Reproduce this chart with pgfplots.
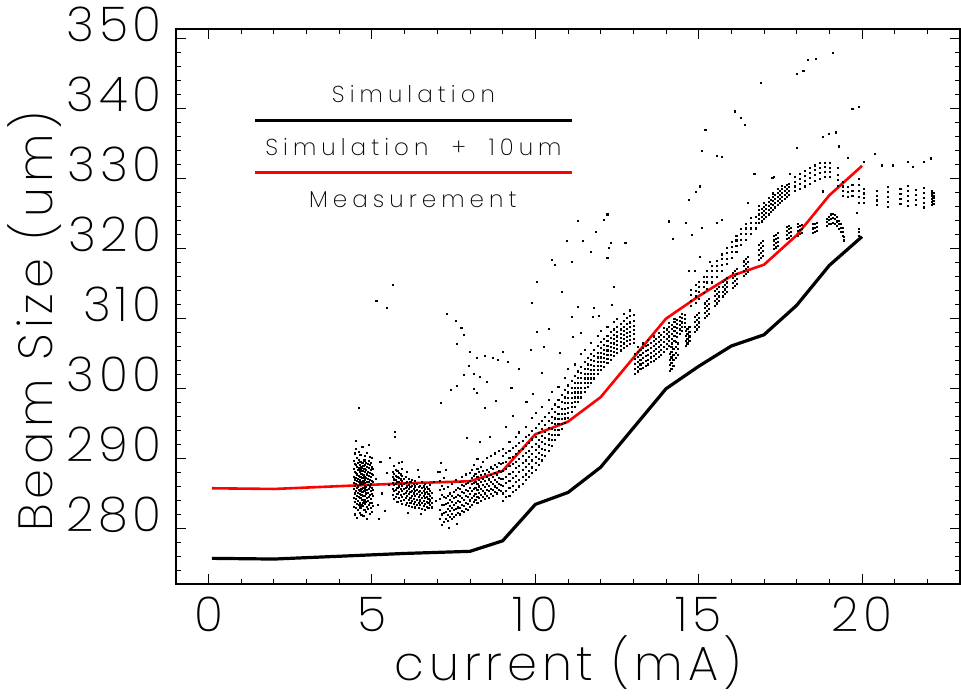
\documentclass[border=0pt]{standalone}
\usepackage{fontspec}
\IfFontExistsTF{Poppins ExtraLight}
  {\setmainfont{Poppins ExtraLight}[LetterSpace=10]
   \newfontfamily\legfont{Poppins ExtraLight}[LetterSpace=22]}
  {\IfFontExistsTF{Poppins Light}
    {\setmainfont{Poppins Light}[LetterSpace=10]
     \newfontfamily\legfont{Poppins Light}[LetterSpace=22]}
    {\setmainfont{Poppins}[LetterSpace=10]
     \newfontfamily\legfont{Poppins}[LetterSpace=22]}}
\usepackage{pgfplots}
\usepackage{pgfplotstable}
\pgfplotsset{compat=1.18}

% beam size samples: one row per time slice, several readings per row
\pgfplotstableread{
x a b c d e f g h
4.43 283.2 284.5 285.7 286.6 287.5 288.6 289.7 nan
4.46 282.1 283.9 285.1 286.2 287.1 288.2 289.3 290.8
4.49 283.0 284.3 285.4 286.4 287.3 288.0 289.1 291.5
4.52 281.6 283.6 284.8 285.9 286.9 287.8 288.9 290.2
4.55 282.7 284.0 285.2 286.1 287.2 288.4 289.5 nan
4.58 283.4 284.6 285.6 286.7 287.6 288.7 289.9 291.0
4.61 282.3 283.8 285.0 286.3 287.0 288.1 289.2 nan
4.64 283.1 284.4 285.4 286.5 287.4 288.5 289.6 290.6
4.67 282.0 283.5 284.9 285.8 286.8 287.9 288.8 nan
4.70 283.3 284.2 285.3 286.4 287.3 288.3 289.4 291.7
4.73 281.9 283.7 284.7 285.9 286.9 287.7 289.0 nan
4.76 282.8 284.1 285.5 286.6 287.5 288.6 289.8 nan
4.79 283.6 284.8 285.7 286.2 287.1 288.2 289.1 290.4
4.82 282.4 283.9 285.1 286.0 287.3 288.4 289.5 nan
4.85 281.4 283.2 284.5 285.6 286.7 287.8 288.9 290.9
4.88 282.9 284.0 285.2 286.3 287.2 288.1 289.3 nan
4.91 283.5 284.6 285.8 286.8 287.6 288.7 289.7 nan
4.94 282.2 283.7 284.9 286.1 287.0 288.0 289.2 290.3
4.97 283.0 284.3 285.4 286.5 287.4 288.5 289.4 nan
5.00 282.5 283.8 285.0 285.9 286.9 287.9 288.8 290.1
5.03 283.3 284.7 285.6 286.7 287.7 288.6 nan nan
5.62 284.9 285.8 286.6 287.4 288.2 nan nan nan
5.67 284.3 285.4 286.3 287.1 287.9 289.0 nan nan
5.72 284.6 285.6 286.5 287.0 287.6 288.5 nan nan
5.77 283.9 285.0 285.9 286.8 287.5 288.3 nan nan
5.82 284.4 285.3 286.1 286.7 287.3 288.0 289.4 nan
5.87 284.0 284.9 285.7 286.4 287.1 287.8 nan nan
5.92 283.6 284.6 285.5 286.2 286.9 287.6 288.6 nan
5.97 284.2 285.0 285.8 286.5 287.2 nan nan nan
6.02 283.5 284.4 285.2 285.9 286.6 287.5 nan nan
6.07 283.8 284.7 285.4 286.1 286.8 288.1 nan nan
6.12 283.3 284.2 285.0 285.7 286.3 287.2 nan nan
6.17 283.7 284.5 285.3 286.0 286.7 nan nan nan
6.22 283.2 284.0 284.8 285.5 286.2 287.0 nan nan
6.27 283.6 284.3 285.1 285.8 286.5 nan nan nan
6.32 283.1 283.9 284.7 285.4 286.1 286.9 nan nan
6.37 283.5 284.2 285.0 285.6 286.4 nan nan nan
6.42 283.0 283.8 284.6 285.3 286.0 287.4 nan nan
6.47 283.4 284.1 284.9 285.5 286.2 nan nan nan
6.52 282.9 283.7 284.5 285.2 285.9 286.7 nan nan
6.57 283.3 284.0 284.7 285.4 286.1 nan nan nan
6.62 282.8 283.6 284.4 285.1 285.8 286.5 nan nan
6.67 283.2 283.9 284.6 285.3 286.0 nan nan nan
6.72 283.0 283.7 284.3 285.0 285.7 nan nan nan
6.77 283.4 284.1 284.8 285.5 286.3 nan nan nan
6.82 283.1 283.8 284.5 285.2 nan nan nan nan
7.08 281.4 282.8 284.3 285.6 286.9 288.2 nan nan
7.14 280.6 282.1 283.5 284.9 286.2 nan nan nan
7.20 281.0 282.3 283.4 284.6 285.8 287.3 nan nan
7.26 281.5 282.5 283.6 284.5 nan nan nan nan
7.32 281.2 282.0 282.9 283.8 284.8 286.0 nan nan
7.38 281.7 282.6 283.3 284.2 285.1 nan nan nan
7.44 281.4 282.2 283.0 283.9 284.7 286.4 nan nan
7.50 281.8 282.7 283.5 284.4 285.3 nan nan nan
7.56 282.0 282.9 283.7 284.6 285.6 287.0 nan nan
7.62 282.3 283.1 284.0 284.9 285.9 nan nan nan
7.68 282.1 283.0 283.9 284.8 285.7 286.8 nan nan
7.74 282.6 283.5 284.4 285.3 286.3 287.5 nan nan
7.80 282.4 283.3 284.2 285.2 286.2 nan nan nan
7.86 282.9 283.8 284.7 285.6 286.5 287.8 nan nan
7.92 282.7 283.6 284.6 285.5 286.6 nan nan nan
7.98 283.2 284.1 285.0 285.9 286.9 288.0 nan nan
8.04 283.4 284.5 285.5 286.4 287.3 288.5 nan nan
8.10 283.9 284.8 285.7 286.6 287.6 289.1 nan nan
8.16 284.2 285.0 285.9 286.8 287.9 nan nan nan
8.22 283.7 284.6 285.6 286.5 287.4 288.6 290.0 nan
8.28 284.4 285.2 286.1 287.0 288.1 nan nan nan
8.34 284.0 284.9 285.8 286.7 287.7 288.9 nan nan
8.40 284.6 285.4 286.3 287.2 288.3 289.6 nan nan
8.46 284.3 285.1 286.0 286.9 287.9 nan nan nan
8.52 284.8 285.6 286.5 287.4 288.5 290.1 nan nan
8.58 284.5 285.4 286.2 287.1 288.2 nan nan nan
8.64 285.0 285.8 286.7 287.7 288.8 290.4 nan nan
8.70 284.8 285.6 286.5 287.5 288.6 nan nan nan
8.76 285.3 286.1 287.0 288.0 289.1 290.8 nan nan
8.82 285.1 285.9 286.8 287.8 288.9 nan nan nan
8.88 285.6 286.4 287.3 288.3 289.5 291.2 nan nan
8.94 285.4 286.3 287.2 288.2 289.3 nan nan nan
9.0 284.0 285.1 286.2 287.2 288.3 289.4 290.4 291.5
9.1 284.6 285.5 286.6 287.5 288.6 289.6 290.9 nan
9.2 284.8 285.9 286.9 287.9 289.0 290.1 291.2 292.4
9.3 285.3 286.2 287.3 288.2 289.3 290.3 291.6 nan
9.4 285.6 286.7 287.6 288.7 289.6 290.7 291.9 293.2
9.5 286.1 287.0 288.1 289.0 290.0 291.1 292.3 293.8
9.6 286.5 287.5 288.4 289.5 290.4 291.5 292.6 nan
9.7 287.0 287.8 288.9 289.8 290.9 291.9 293.1 294.6
9.8 287.4 288.3 289.3 290.3 291.2 292.3 293.5 nan
9.9 288.0 288.8 289.8 290.7 291.7 292.8 294.0 295.9
10.0 288.5 289.4 290.3 291.3 292.2 293.2 294.5 296.6
10.1 289.1 290.0 290.9 291.8 292.7 293.7 295.0 nan
10.2 289.8 290.6 291.5 292.4 293.3 294.3 295.5 297.4
10.3 290.5 291.3 292.1 293.0 293.9 294.9 296.0 nan
10.4 291.2 292.0 292.8 293.6 294.5 295.4 296.6 298.5
10.5 291.9 292.7 293.5 294.3 295.1 296.0 297.1 299.6
10.6 292.7 293.4 294.2 295.0 295.8 296.7 297.8 nan
10.7 293.5 294.2 295.0 295.7 296.5 297.4 298.4 300.3
10.8 294.3 295.0 295.7 296.5 297.2 298.1 299.1 nan
10.9 295.1 295.8 296.5 297.2 298.0 298.8 299.8 301.6
11.0 295.9 296.6 297.3 298.0 298.7 299.5 300.5 302.8
11.1 296.7 297.4 298.0 298.7 299.4 300.2 301.1 nan
11.2 297.4 298.1 298.8 299.5 300.2 300.9 301.8 303.5
11.3 298.1 298.8 299.5 300.2 300.9 301.6 302.5 nan
11.4 298.8 299.5 300.2 300.9 301.6 302.3 303.2 305.0
11.5 299.6 300.2 300.9 301.5 302.2 302.9 303.8 305.6
11.6 300.3 300.9 301.5 302.1 302.8 303.5 304.4 nan
11.7 300.9 301.5 302.1 302.7 303.4 304.1 305.0 306.6
11.8 301.5 302.1 302.7 303.3 304.0 304.7 305.6 nan
11.9 302.1 302.7 303.3 303.9 304.5 305.2 306.1 307.6
12.0 302.7 303.3 303.9 304.5 305.1 305.8 306.7 308.3
12.1 303.2 303.8 304.4 305.0 305.6 306.3 307.2 nan
12.2 303.7 304.3 304.9 305.5 306.1 306.8 307.6 308.9
12.3 304.2 304.8 305.4 306.0 306.6 307.3 308.1 nan
12.4 304.7 305.3 305.9 306.5 307.1 307.7 308.5 309.6
12.5 305.1 305.7 306.3 306.9 307.5 308.1 308.9 310.0
12.6 305.5 306.1 306.7 307.3 307.9 308.5 309.3 nan
12.7 305.9 306.5 307.1 307.7 308.3 308.9 309.7 310.7
12.8 306.2 306.8 307.4 308.0 308.6 309.3 310.1 nan
12.9 306.4 307.0 307.6 308.2 308.8 309.5 310.4 311.2
13.0 306.6 307.2 307.8 308.4 309.0 309.7 310.6 nan
13.05 302.2 302.9 303.6 304.3 305.0 nan nan nan
13.13 302.5 303.2 303.9 304.6 305.3 306.0 nan nan
13.21 302.8 303.5 304.2 304.9 305.6 nan nan nan
13.29 303.0 303.7 304.4 305.1 305.8 306.5 nan nan
13.37 303.3 304.0 304.7 305.4 306.1 nan nan nan
13.45 303.5 304.2 304.9 305.6 306.3 307.0 nan nan
13.53 303.8 304.5 305.2 305.9 306.6 nan nan nan
13.61 304.0 304.7 305.4 306.1 306.8 307.5 nan nan
13.69 304.3 305.0 305.7 306.4 307.1 nan nan nan
13.77 304.6 305.3 306.0 306.7 307.4 308.0 nan nan
13.85 304.9 305.6 306.3 307.0 307.7 nan nan nan
13.93 305.3 306.0 306.7 307.4 308.1 308.7 nan nan
14.01 305.7 306.4 307.1 307.8 308.5 nan nan nan
14.09 306.1 306.8 307.5 308.2 308.9 309.4 nan nan
14.17 306.5 307.2 307.9 308.6 309.2 nan nan nan
14.25 306.9 307.6 308.3 308.9 309.6 310.0 nan nan
14.33 307.4 308.0 308.7 309.3 309.9 nan nan nan
14.41 307.8 308.5 309.1 309.7 310.3 nan nan nan
14.49 308.3 308.9 309.5 310.1 310.7 nan nan nan
14.57 308.8 309.4 310.0 310.6 nan nan nan nan
14.10 302.6 303.4 304.2 305.0 nan nan nan nan
14.16 302.9 303.7 304.5 305.3 306.0 nan nan nan
14.22 303.3 304.1 304.9 305.7 nan nan nan nan
14.30 304.4 305.2 306.0 306.7 nan nan nan nan
14.36 304.9 305.7 306.5 nan nan nan nan nan
14.59 306.2 306.9 307.6 308.3 nan nan nan nan
14.65 306.5 307.2 307.9 308.6 nan nan nan nan
14.71 306.8 307.5 308.2 308.9 nan nan nan nan
14.89 308.2 308.9 309.6 310.3 nan nan nan nan
14.95 308.5 309.2 309.9 310.6 nan nan nan nan
15.01 308.8 309.5 310.2 310.9 nan nan nan nan
15.19 310.1 310.8 311.5 312.2 nan nan nan nan
15.25 310.4 311.1 311.8 312.5 nan nan nan nan
15.31 310.7 311.4 312.1 312.8 nan nan nan nan
15.49 311.9 312.6 313.3 314.0 nan nan nan nan
15.55 312.2 312.9 313.6 314.3 nan nan nan nan
15.61 312.5 313.2 313.9 314.6 nan nan nan nan
15.74 313.2 313.9 314.6 315.3 nan nan nan nan
15.80 313.5 314.2 314.9 315.6 nan nan nan nan
15.86 313.8 314.5 315.2 315.9 nan nan nan nan
16.04 314.4 315.1 315.8 316.5 nan nan nan nan
16.10 314.7 315.4 316.1 316.8 nan nan nan nan
16.16 315.0 315.7 316.4 317.1 nan nan nan nan
16.39 316.1 316.8 317.5 318.2 nan nan nan nan
16.45 316.4 317.1 317.8 318.5 nan nan nan nan
16.51 316.7 317.4 318.1 318.8 nan nan nan nan
16.84 318.4 319.1 319.8 320.5 nan nan nan nan
16.90 318.7 319.4 320.1 320.8 nan nan nan nan
16.96 319.0 319.7 320.4 321.1 nan nan nan nan
17.29 320.0 320.6 321.2 321.8 nan nan nan nan
17.35 320.2 320.8 321.4 322.0 nan nan nan nan
17.41 320.4 321.0 321.6 322.2 nan nan nan nan
17.69 321.4 322.0 322.6 323.1 nan nan nan nan
17.75 321.6 322.2 322.8 323.3 nan nan nan nan
17.81 321.8 322.4 323.0 nan nan nan nan nan
18.04 321.9 322.5 323.1 323.6 nan nan nan nan
18.10 322.1 322.7 323.3 nan nan nan nan nan
18.16 322.2 322.8 323.4 nan nan nan nan nan
18.49 322.3 322.9 323.5 nan nan nan nan nan
18.55 322.4 323.0 323.6 nan nan nan nan nan
18.61 322.5 323.1 323.7 nan nan nan nan nan
18.92 323.2 323.8 324.3 nan nan nan nan nan
18.98 323.5 324.1 324.6 nan nan nan nan nan
19.04 323.6 324.3 324.9 nan nan nan nan nan
19.10 323.7 324.4 325.0 nan nan nan nan nan
19.16 323.5 324.2 324.8 nan nan nan nan nan
19.22 323.2 323.9 324.5 nan nan nan nan nan
19.28 322.8 323.5 324.0 nan nan nan nan nan
19.34 322.4 323.0 323.6 nan nan nan nan nan
19.40 321.8 322.4 323.0 nan nan nan nan nan
19.45 321.2 321.7 nan nan nan nan nan nan
19.90 321.9 322.4 322.8 nan nan nan nan nan
14.75 311.8 312.6 313.4 314.1 nan nan nan nan
14.90 312.3 313.2 314.0 314.8 nan nan nan nan
15.00 312.9 313.8 314.6 315.3 nan nan nan nan
15.15 313.7 314.5 315.3 316.0 nan nan nan nan
15.25 314.3 315.2 316.0 316.8 nan nan nan nan
15.40 315.2 316.0 316.8 317.6 nan nan nan nan
15.55 316.0 316.8 317.6 318.3 nan nan nan nan
15.70 316.9 317.7 318.5 319.2 nan nan nan nan
15.85 317.8 318.6 319.4 320.1 nan nan nan nan
16.00 318.7 319.5 320.3 321.0 nan nan nan nan
16.15 319.6 320.4 321.2 321.9 nan nan nan nan
16.30 320.5 321.3 322.1 322.8 nan nan nan nan
16.45 321.3 322.1 322.9 323.6 nan nan nan nan
16.60 322.1 322.9 323.7 324.4 nan nan nan nan
16.75 322.9 323.7 324.5 nan nan nan nan nan
16.85 323.7 324.3 324.9 325.5 326.1 nan nan nan
16.92 323.9 324.5 325.1 325.7 nan nan nan nan
16.99 324.2 324.8 325.4 326.0 326.6 nan nan nan
17.06 324.5 325.1 325.7 326.3 nan nan nan nan
17.13 324.9 325.5 326.1 326.7 327.2 nan nan nan
17.20 325.2 325.8 326.4 327.0 nan nan nan nan
17.27 325.6 326.2 326.8 327.4 327.9 nan nan nan
17.34 325.9 326.5 327.1 327.7 nan nan nan nan
17.41 326.2 326.8 327.4 328.0 328.5 nan nan nan
17.48 326.5 327.1 327.7 328.3 nan nan nan nan
17.55 326.8 327.4 328.0 328.6 329.0 nan nan nan
17.62 327.1 327.7 328.3 328.8 nan nan nan nan
17.69 327.4 328.0 328.6 329.1 nan nan nan nan
17.76 327.7 328.3 328.8 329.3 nan nan nan nan
17.95 328.2 328.9 329.6 330.2 nan nan nan nan
18.10 328.6 329.3 330.0 330.7 nan nan nan nan
18.25 328.9 329.7 330.4 331.1 nan nan nan nan
18.40 329.3 330.1 330.8 331.5 nan nan nan nan
18.55 329.7 330.5 331.2 331.9 nan nan nan nan
18.70 330.0 330.8 331.5 332.2 nan nan nan nan
18.85 330.3 331.0 331.7 332.3 nan nan nan nan
19.00 330.3 331.0 331.6 332.2 nan nan nan nan
19.25 329.0 329.8 330.6 331.5 nan nan nan nan
19.40 327.5 328.2 328.9 329.5 nan nan nan nan
19.55 327.4 328.1 328.8 nan nan nan nan nan
19.70 327.6 328.3 329.1 nan nan nan nan nan
19.90 326.6 327.4 328.2 329.1 330.0 nan nan nan
20.05 326.5 327.2 327.9 328.6 nan nan nan nan
20.45 326.2 326.9 327.6 328.3 nan nan nan nan
20.80 326.0 326.7 327.4 328.1 328.8 nan nan nan
21.17 326.4 327.1 327.8 328.5 nan nan nan nan
21.40 326.1 326.8 327.5 328.2 329.0 nan nan nan
21.63 326.3 327.0 327.7 328.4 nan nan nan nan
21.88 325.9 326.6 327.3 328.0 328.7 nan nan nan
22.12 326.3 326.7 327.1 327.5 327.9 328.3 nan nan
22.18 326.4 326.8 327.2 327.6 328.0 nan nan nan
}\streaks

\pgfplotsset{meas/.style={only marks, mark=square*, mark size=0.55pt,
  mark options={draw=none, fill=black}}}

\begin{document}
\begin{tikzpicture}
\path[use as bounding box] (-176pt,-114pt) rectangle (785pt,584pt);
\begin{axis}[
  scale only axis, width=784pt, height=555pt,
  xmin=-1, xmax=23, ymin=272.14, ymax=351.33,
  xtick={0,5,...,20}, minor xtick={-1,0,...,23},
  ytick={280,290,...,350}, minor ytick={274,276,...,350},
  tick align=inside, major tick length=10pt, minor tick length=5pt,
  axis line style={line width=1.3pt},
  every tick/.style={black, line width=1pt},
  /pgf/number format/assume math mode=true,
  every tick label/.append style={font=\fontsize{48}{48}\selectfont},
  xticklabel style={inner sep=0pt, yshift=-13pt},
  yticklabel style={inner sep=0pt, xshift=-14pt, yshift=14pt},
  xlabel={current (mA)}, ylabel={Beam Size (um)},
  label style={font=\fontsize{48}{48}\selectfont},
  xlabel style={at={([yshift=-96pt]rel axis cs:0.5,0)}, anchor=base},
  ylabel style={at={([xshift=-141pt,yshift=-15pt]rel axis cs:0,0.5)}, anchor=center},
]
\pgfplotsinvokeforeach{a,b,c,d,e,f,g,h}{
  \addplot[meas] table[x=x, y=#1] {\streaks};
}
% isolated readings away from the main bands
\addplot[meas] coordinates {
(4.58,297.3)(5.13,312.6)(5.46,311.6)(5.62,314.9)(5.69,293.9)(5.70,293.1)
(4.50,292.6)(4.90,292.0)(5.12,287.2)(5.18,283.4)(5.25,289.6)(5.30,285.1)
(5.38,282.6)(5.45,288.0)(5.52,286.3)(5.20,281.5)(5.55,290.2)
(7.10,289.4)(7.25,288.5)(7.60,280.8)(7.35,280.2)(6.90,286.7)(6.95,284.0)
(7.00,288.2)(6.10,282.3)(6.50,282.2)(5.90,289.6)(6.40,288.4)
(7.30,310.7)(7.55,309.7)(7.73,308.7)(7.80,307.7)(7.58,306.4)(8.00,305.3)
(8.20,304.4)(8.46,304.7)(8.70,304.4)(9.00,305.3)(8.85,304.1)(9.15,303.9)
(7.95,303.3)(7.80,302.0)(8.10,302.1)(8.30,301.7)(8.50,301.0)(7.60,300.4)
(7.40,299.9)(8.10,300.0)(8.20,299.4)(8.80,298.3)(7.10,298.0)(8.45,297.3)
(9.26,300.1)(9.30,296.1)(7.90,293.0)(8.30,292.4)(8.60,293.1)(9.10,294.6)
(12.20,324.9)(12.10,324.1)(11.30,324.0)(11.86,322.4)(10.97,321.1)(11.46,321.1)
(12.30,320.9)(11.70,319.6)(12.25,320.1)(10.50,318.4)(11.10,318.1)(10.60,317.7)
(12.20,318.7)(10.05,315.3)(10.80,313.9)(12.40,314.6)(9.90,312.3)(11.30,311.7)
(11.80,311.6)(11.10,310.3)(11.75,310.3)(11.95,310.4)(10.40,308.6)(10.05,308.1)
(11.40,308.0)(11.15,307.4)(10.25,306.0)(9.85,305.6)(10.75,305.1)(9.50,302.8)
(10.20,302.3)(9.93,299.3)(9.72,298.1)(12.35,312.0)(12.75,320.9)
(15.10,333.9)(15.56,333.3)(15.70,333.1)(15.04,328.9)(14.90,328.1)(14.70,327.0)
(16.70,330.7)(17.25,330.1)(17.80,330.7)(18.80,328.1)(14.07,323.9)(14.60,323.7)
(15.10,323.0)(15.70,324.1)(15.55,323.7)(14.80,322.0)(14.20,321.4)(16.50,326.6)
(15.04,318.9)(14.70,316.9)(14.88,316.9)(15.35,318.1)
(16.10,339.6)(16.30,338.7)(15.20,337.0)(16.40,337.7)
(19.10,347.9)(18.57,347.1)(18.35,347.0)(18.20,345.4)(18.00,345.0)(16.90,343.7)
(19.70,339.9)(19.90,340.3)(19.20,336.6)(18.97,336.4)(18.80,336.0)(18.00,334.4)
(19.30,334.6)(19.55,333.0)(20.05,332.4)(20.40,333.6)(20.60,331.9)(20.95,331.9)
(21.40,332.4)(21.55,331.7)(21.90,332.4)(22.10,332.9)(17.30,330.3)(18.80,328.3)
(19.85,325.1)
};
% simulated beam size
\addplot[black, line width=3.2pt] coordinates {
(0.1,275.8)(2,275.7)(4,276.1)(6,276.5)(8,276.8)(9,278.3)(10,283.5)(11,285.2)
(12,288.8)(13,294.4)(14,300.0)(15,303.2)(16,306.1)(17,307.7)(18,311.9)
(19,317.6)(20,321.7)
};
% simulation plus 10 um
\addplot[red, line width=2.6pt] coordinates {
(0.1,285.8)(2,285.7)(4,286.1)(6,286.5)(8,286.8)(9,288.3)(10,293.5)(11,295.3)
(12,298.8)(13,304.4)(14,310.0)(15,313.2)(16,316.1)(17,317.7)(18,321.9)
(19,327.6)(20,331.8)
};
% key
\draw[black, line width=2.4pt] (axis cs:1.43,338.3) -- (axis cs:11.12,338.3);
\draw[red, line width=2.4pt] (axis cs:1.43,330.86) -- (axis cs:11.12,330.86);
\node[anchor=base, font=\legfont\fontsize{23}{23}\selectfont] at (axis cs:6.27,340.86) {Simulation};
\node[anchor=base, font=\legfont\fontsize{23}{23}\selectfont] at (axis cs:6.27,333.3) {Simulation \ + \ 10um};
\node[anchor=base, font=\legfont\fontsize{23}{23}\selectfont] at (axis cs:6.25,325.8) {Measurement};
\end{axis}
\end{tikzpicture}
\end{document}
